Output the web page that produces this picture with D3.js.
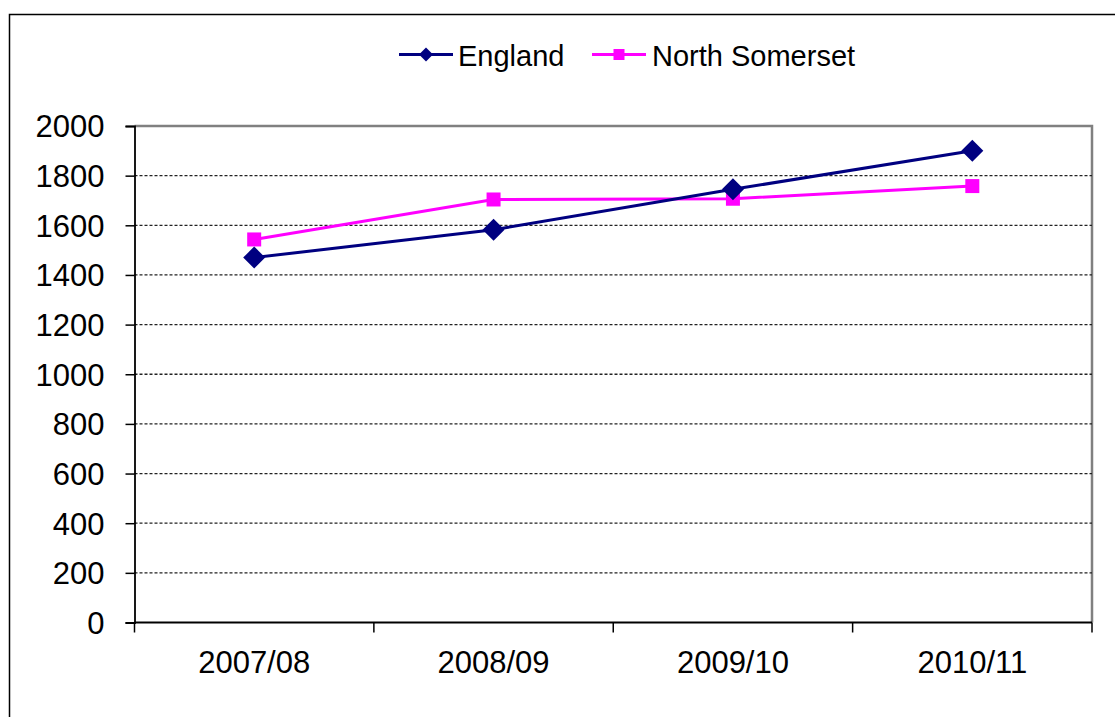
<!DOCTYPE html>
<html>
<head>
<meta charset="utf-8">
<script src="https://cdn.jsdelivr.net/npm/d3@7"></script>
<style>
  html, body { margin: 0; padding: 0; background: #fff; }
  svg { display: block; font-family: "Liberation Sans", Arial, sans-serif; }
</style>
</head>
<body>
<svg id="chart" width="1115" height="717"></svg>
<script>
// Yearly figures, England vs North Somerset
const years = ["2007/08", "2008/09", "2009/10", "2010/11"];
const england = [1470, 1582, 1745, 1900];
const northSomerset = [1543, 1704, 1707, 1758];
const yTicks = [0, 200, 400, 600, 800, 1000, 1200, 1400, 1600, 1800, 2000];

const series = [
  { name: "England", values: england, color: "#000080", marker: "diamond" },
  { name: "North Somerset", values: northSomerset, color: "#FF00FF", marker: "square" }
];

const svg = d3.select("#chart");
const plot = { left: 134.5, top: 126, right: 1092, bottom: 622.5 };

// outer chart frame (runs past the right and bottom edges)
svg.append("rect")
  .attr("x", 9.5).attr("y", 14.5)
  .attr("width", 1130).attr("height", 730)
  .attr("fill", "#fff").attr("stroke", "#000").attr("stroke-width", 1.5);

const x = d3.scaleBand().domain(years).range([plot.left, plot.right]).padding(0);
const y = d3.scaleLinear().domain([0, 2000]).range([plot.bottom, plot.top]);

// plot area top/right border
svg.append("path")
  .attr("d", `M${plot.left},${plot.top}H${plot.right}V${plot.bottom}`)
  .attr("fill", "none").attr("stroke", "#808080").attr("stroke-width", 2.5);

// dashed gridlines
svg.append("g")
  .selectAll("line")
  .data(yTicks.filter(v => v > 0 && v < 2000))
  .join("line")
  .attr("x1", plot.left).attr("x2", plot.right)
  .attr("y1", d => y(d)).attr("y2", d => y(d))
  .attr("stroke", "#222").attr("stroke-width", 1.3)
  .attr("stroke-dasharray", "3,2");

// y axis
const yAxis = d3.axisLeft(y).tickValues(yTicks).tickSize(9).tickPadding(21).tickFormat(d3.format("d"));
const gy = svg.append("g").attr("transform", `translate(${plot.left},0)`).call(yAxis);
gy.select(".domain").attr("stroke", "#000").attr("stroke-width", 1.8);
gy.selectAll(".tick line").attr("stroke", "#000").attr("stroke-width", 1.5);
gy.selectAll(".tick text")
  .attr("font-size", 31).attr("fill", "#000")
  .attr("font-family", "Liberation Sans, Arial, sans-serif")
  .attr("dy", "0.35em");

// x axis: ticks at category boundaries
const gx = svg.append("g").attr("transform", `translate(0,${plot.bottom})`);
gx.append("line")
  .attr("x1", plot.left).attr("x2", plot.right)
  .attr("stroke", "#000").attr("stroke-width", 2);
const bounds = years.map(d => x(d)).concat([x(years[years.length - 1]) + x.bandwidth()]);
gx.selectAll("line.tk").data(bounds).join("line").attr("class", "tk")
  .attr("x1", d => d).attr("x2", d => d).attr("y1", 0).attr("y2", 10)
  .attr("stroke", "#000").attr("stroke-width", 1.5);
gx.selectAll("text").data(years).join("text")
  .attr("x", d => x(d) + x.bandwidth() / 2)
  .attr("y", 50)
  .attr("text-anchor", "middle")
  .attr("font-size", 31).attr("fill", "#000")
  .text(d => d);

// markers
function drawMarker(g, type, cx, cy, size, color) {
  if (type === "diamond") {
    const r = size / 2;
    g.append("path")
      .attr("d", `M${cx},${cy - r}L${cx + r},${cy}L${cx},${cy + r}L${cx - r},${cy}Z`)
      .attr("fill", color);
  } else {
    g.append("rect")
      .attr("x", cx - size / 2).attr("y", cy - size / 2)
      .attr("width", size).attr("height", size)
      .attr("fill", color);
  }
}

const line = d3.line()
  .x((d, i) => x(years[i]) + x.bandwidth() / 2)
  .y(d => y(d));

// draw North Somerset first so England sits on top
[series[1], series[0]].forEach(s => {
  const g = svg.append("g");
  g.append("path").datum(s.values)
    .attr("d", line)
    .attr("fill", "none").attr("stroke", s.color).attr("stroke-width", 3);
  s.values.forEach((v, i) => {
    drawMarker(g, s.marker, x(years[i]) + x.bandwidth() / 2, y(v),
      s.marker === "diamond" ? 22 : 14, s.color);
  });
});

// legend
const legendItems = [
  { s: series[0], x0: 399, tx: 458 },
  { s: series[1], x0: 592, tx: 652 }
];
const ly = 54.5;
legendItems.forEach(({ s, x0, tx }) => {
  const g = svg.append("g");
  g.append("line").attr("x1", x0).attr("x2", x0 + 54).attr("y1", ly).attr("y2", ly)
    .attr("stroke", s.color).attr("stroke-width", 3);
  drawMarker(g, s.marker, x0 + 27, ly, s.marker === "diamond" ? 14 : 11, s.color);
  g.append("text").attr("x", tx).attr("y", ly + 11)
    .attr("font-size", 29).attr("fill", "#000").text(s.name);
});
</script>
</body>
</html>
